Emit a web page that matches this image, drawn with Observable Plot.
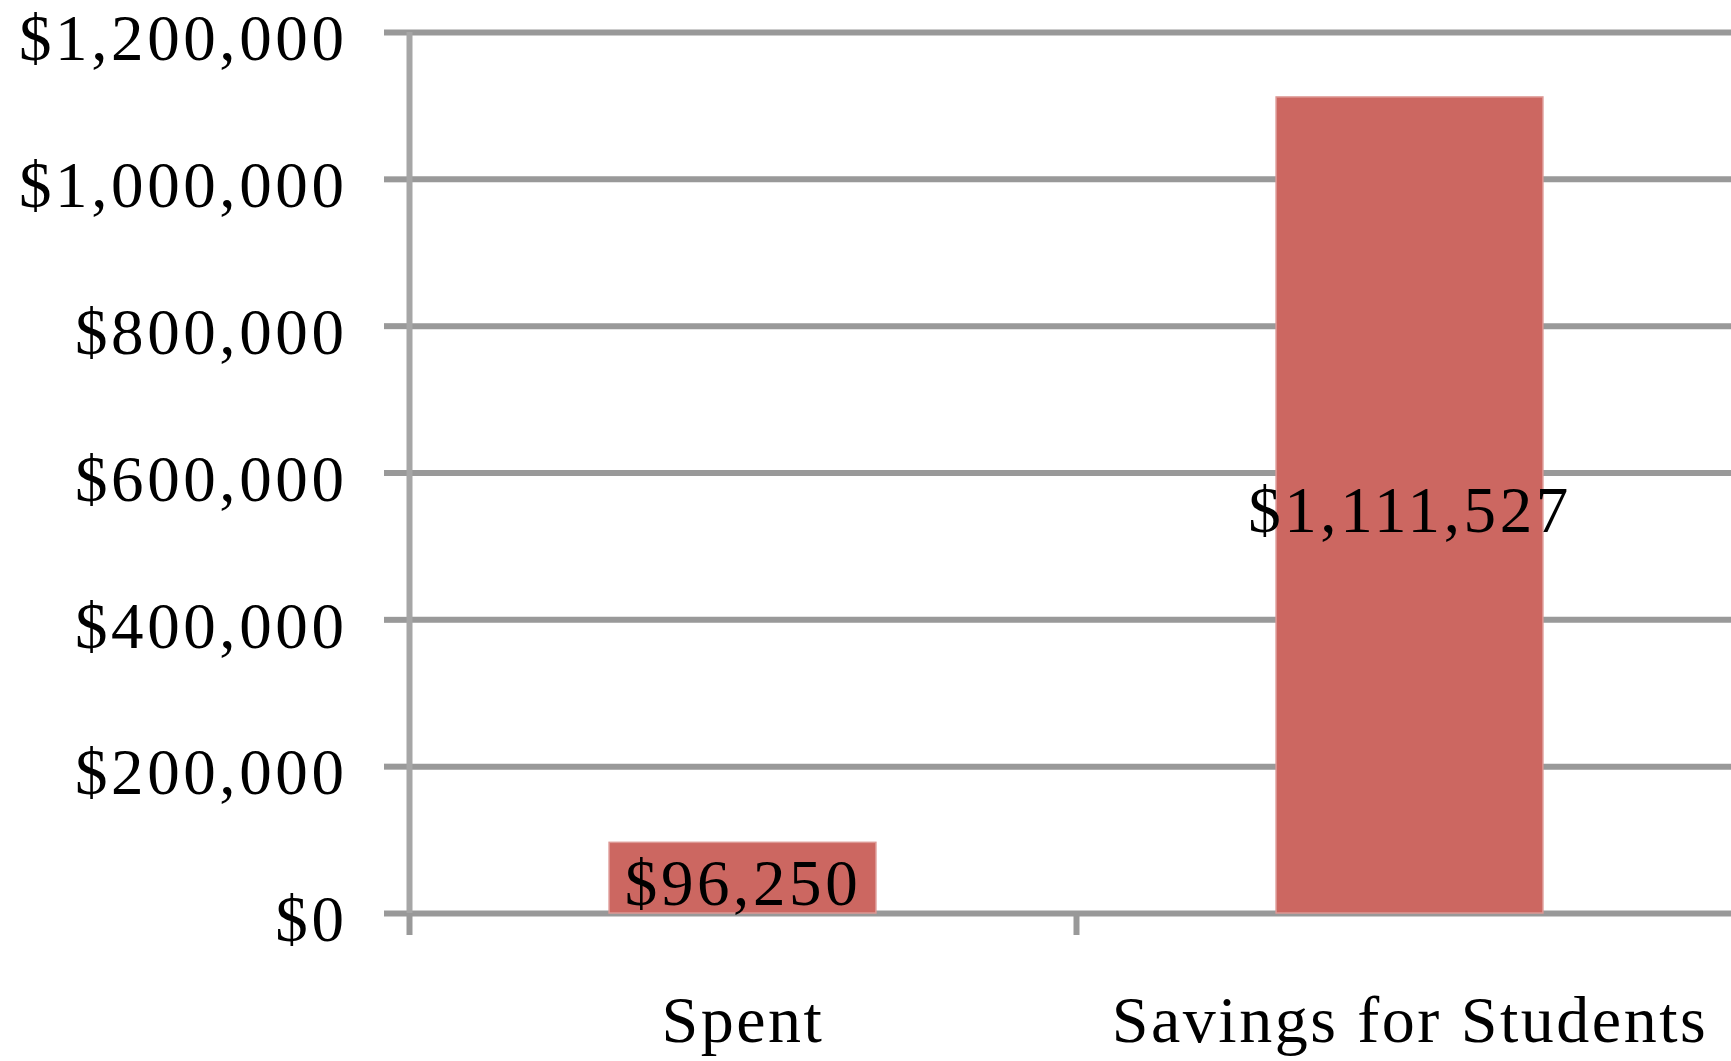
<!DOCTYPE html>
<html>
<head>
<meta charset="utf-8">
<script src="https://cdn.jsdelivr.net/npm/d3@7"></script>
<script src="https://cdn.jsdelivr.net/npm/@observablehq/plot@0.6"></script>
<style>
  html, body { margin: 0; padding: 0; background: #ffffff; }
  #chart svg { display: block; }
</style>
</head>
<body>
<div id="chart"></div>
<script>
// ---- data ----
const categories = ["Spent", "Savings for Students"];
const values = [96250, 1111527];
const yTicks = [0, 200000, 400000, 600000, 800000, 1000000, 1200000];

const money = d => "$" + d3.format(",")(d);
const gap = 0.3; // fraction of each category slot left empty on each side of a bar

const data = categories.map((c, i) => ({ category: c, index: i, value: values[i] }));

const chart = Plot.plot({
  width: 1731,
  height: 1061,
  marginLeft: 409,
  marginRight: -12,
  marginTop: 32,
  marginBottom: 148,
  style: {
    fontFamily: "'Liberation Serif', serif",
    fontSize: "65px",
    color: "#000",
    background: "#fff",
    overflow: "hidden"
  },
  x: { type: "linear", domain: [0, categories.length], axis: null },
  y: { domain: [0, 1200000], axis: null },
  marks: [
    Plot.gridY(yTicks, { stroke: "#999999", strokeOpacity: 1, strokeWidth: 6 }),
    // tick marks only
    Plot.axisY({
      ticks: yTicks,
      tickSize: 25,
      text: null,
      label: null,
      stroke: "#999999",
      strokeWidth: 6
    }),
    // tick labels only
    Plot.axisY({
      ticks: yTicks,
      tickSize: 0,
      tickPadding: 62,
      tickFormat: money,
      label: null,
      fill: "#000",
      fontSize: 65,
      dy: 7,
      className: "num"
    }),
    Plot.ruleX([0], { y1: 0, y2: 1200000, stroke: "#a6a6a6", strokeWidth: 6 }),
    Plot.axisX({
      ticks: d3.range(categories.length + 1),
      tickSize: 22,
      tickFormat: () => "",
      label: null,
      stroke: "#999999",
      strokeWidth: 6
    }),
    Plot.rectY(data, {
      x1: d => d.index + gap,
      x2: d => d.index + 1 - gap,
      y1: 0,
      y2: "value",
      fill: "#cc6761",
      stroke: "#dd9894",
      strokeWidth: 1.5
    }),
    Plot.text(data, {
      x: d => d.index + 0.5,
      y: d => d.value / 2,
      text: d => money(d.value),
      fill: "#000",
      fontSize: 65,
      dy: 6,
      className: "num"
    }),
    Plot.text(data, {
      x: d => d.index + 0.5,
      y: 0,
      text: "category",
      fill: "#000",
      fontSize: 66,
      dy: 107,
      className: "cat"
    })
  ]
});

// widen glyph spacing to mimic the reference's wider serif face
chart.querySelectorAll("g.num text, .num text").forEach(t => t.setAttribute("letter-spacing", "3.6px"));
chart.querySelectorAll("g.cat text, .cat text").forEach(t => t.setAttribute("letter-spacing", "2.5px"));

document.getElementById("chart").appendChild(chart);
</script>
</body>
</html>
